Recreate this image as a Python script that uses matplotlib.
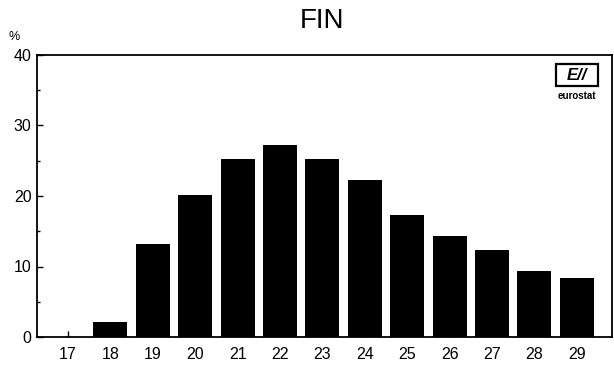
import matplotlib
matplotlib.use("Agg")
import matplotlib.pyplot as plt
from matplotlib.patches import Rectangle
import numpy as np

categories = ["17", "18", "19", "20", "21", "22", "23", "24", "25", "26", "27", "28", "29"]
values = [0.0, 2.1, 13.2, 20.2, 25.2, 27.2, 25.2, 22.3, 17.3, 14.3, 12.3, 9.4, 8.4]
yticks = [0, 10, 20, 30, 40]

plt.rcParams['font.family'] = ['Liberation Sans', 'DejaVu Sans']

fig = plt.figure(figsize=(6.14, 3.67), dpi=100)
ax = fig.add_axes([37/614, 30/367, (612-37)/614, (337-55)/367])

x = np.arange(len(categories))
ax.bar(x, values, width=0.8, color='black')
ax.set_xlim(-0.73, len(categories) - 1 + 0.83)
ax.set_ylim(0, 40)
ax.set_xticks(x)
ax.set_xticklabels(categories, fontsize=11.5)
ax.set_yticks(yticks)
ax.set_yticklabels([str(v) for v in yticks], fontsize=11.5)
ax.set_yticks([5, 15, 25, 35], minor=True)
ax.tick_params(axis='both', direction='in', length=4, width=1, pad=4)
ax.tick_params(axis='y', which='minor', direction='in', length=2.5, width=1)
ax.tick_params(axis='x', pad=7)
for s in ax.spines.values():
    s.set_linewidth(1.3)

fig.text(322/614, 1 - 21/367, "FIN", fontsize=20, ha='center', va='center')
fig.text(14/614, 1 - 37/367, "%", fontsize=9, ha='center', va='center')

# eurostat logo
lx0, ly0, lw, lh = 556/614, 1 - 86/367, 42/614, 22/367
fig.patches.append(Rectangle((lx0, ly0), lw, lh, transform=fig.transFigure,
                             fill=False, edgecolor='black', linewidth=1.6))
fig.text(lx0 + lw/2, ly0 + lh/2 - 0.002, "E//", fontsize=12, fontweight='bold',
         style='italic', ha='center', va='center')
fig.text(lx0 + lw/2, 1 - 96/367, "eurostat", fontsize=7, fontweight='bold',
         ha='center', va='center')

fig.savefig("out.png", dpi=100)
